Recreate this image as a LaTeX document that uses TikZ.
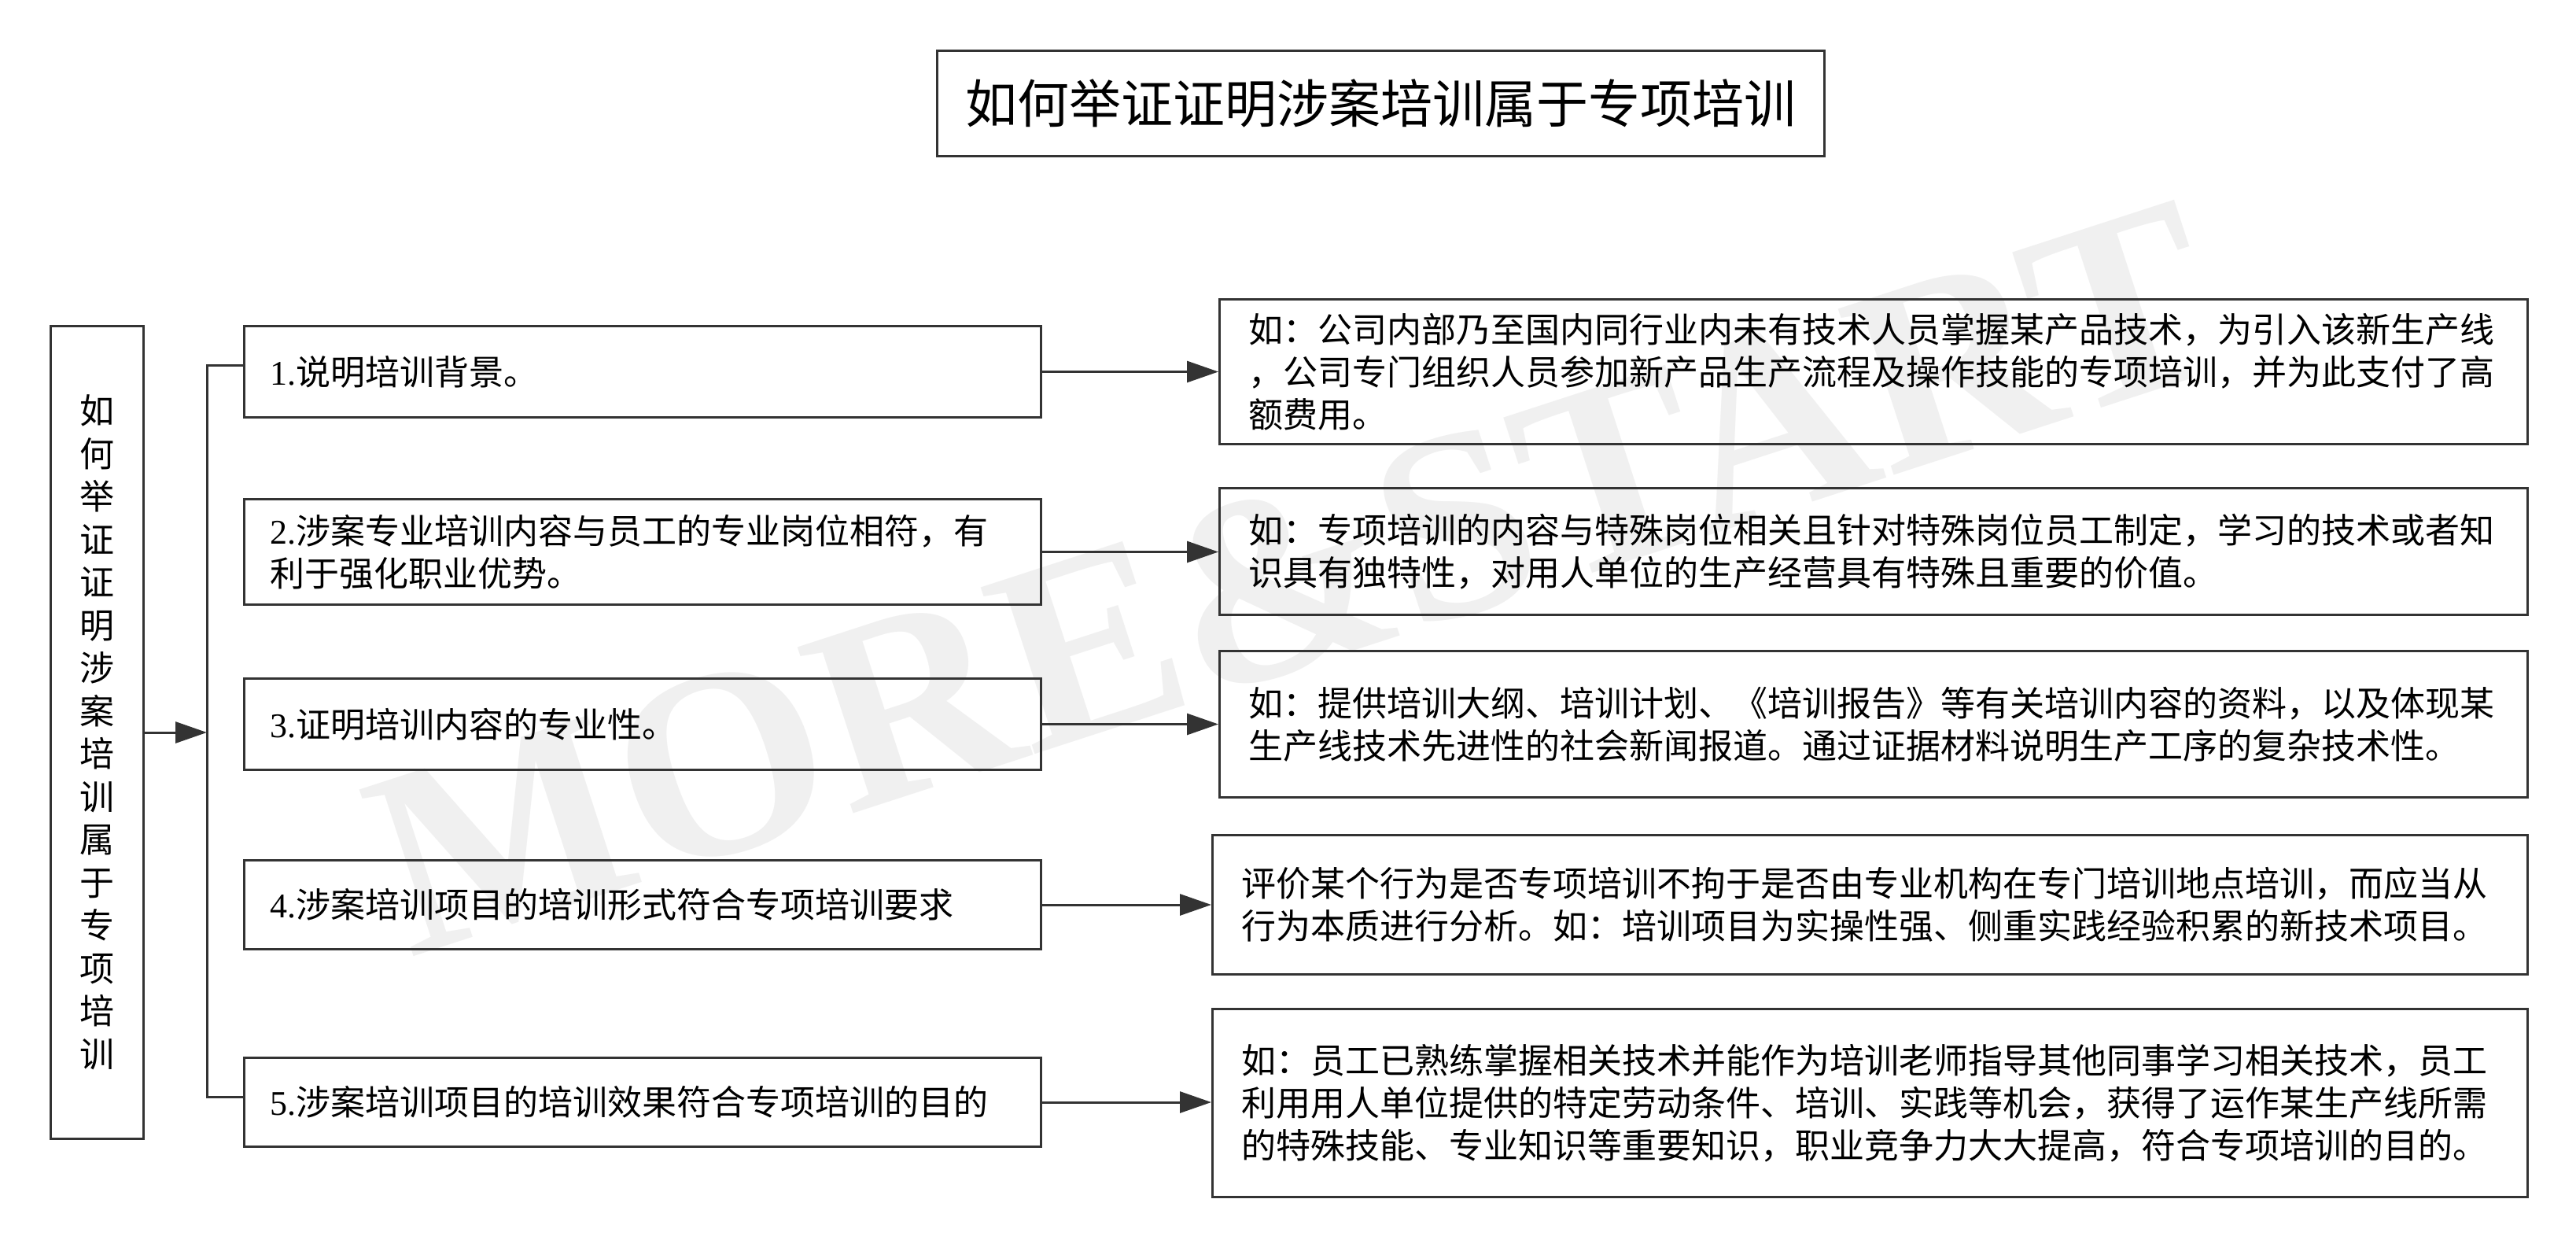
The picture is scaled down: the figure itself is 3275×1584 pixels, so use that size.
\documentclass[tikz,border=0pt]{standalone}
\usepackage{fontspec}
\setmainfont{Liberation Serif}
\newfontfamily\cjk{Noto Sans CJK SC}
\usetikzlibrary{arrows.meta}
\definecolor{lc}{RGB}{51,51,51}
\definecolor{wm}{RGB}{240,240,240}
\begin{document}
\begin{tikzpicture}[x=0.3pt,y=-0.3pt,
  box/.style={draw=lc, line width=0.9pt, inner ysep=0pt, anchor=north west, align=left,
    font=\cjk\fontsize{13.2}{16.2}\selectfont},
  lbox/.style={box, minimum width=303.9pt, text width=284.1pt, inner xsep=9.9pt},
  rbox/.style={box, minimum width=498.9pt, text width=476.7pt, inner xsep=11.1pt},
  rboxb/.style={box, minimum width=501.6pt, text width=479.4pt, inner xsep=11.1pt},
  arr/.style={draw=lc, line width=0.9pt, -{Triangle[length=12pt,width=8.1pt]}},
  ln/.style={draw=lc, line width=0.9pt}]
\useasboundingbox[fill=white] (0,0) rectangle (3275,1584);
% watermark
\node[rotate=18, text=wm, inner sep=0pt, font=\fontsize{102}{102}\selectfont\bfseries] (wmk) at (1645,735) {MORE\&START};
% title
\node[box, align=center, inner xsep=0pt, minimum width=338.4pt, minimum height=40.2pt,
  font=\cjk\fontsize{19.8}{24}\selectfont] (title) at (1190,63) {如何举证证明涉案培训属于专项培训};
% left vertical box
\node[box, align=center, minimum width=35.4pt, minimum height=309.9pt,
  font=\cjk\fontsize{13.2}{16.35}\selectfont] (L) at (63,413)
  {如\\何\\举\\证\\证\\明\\涉\\案\\培\\训\\属\\于\\专\\项\\培\\训};
% middle boxes
\node[lbox, minimum height=34.8pt] (b1) at (309,413) {{\rmfamily 1.}说明培训背景。};
\node[lbox, minimum height=40.2pt] (b2) at (309,633) {{\rmfamily 2.}涉案专业培训内容与员工的专业岗位相符，有\\利于强化职业优势。};
\node[lbox, minimum height=34.8pt] (b3) at (309,861) {{\rmfamily 3.}证明培训内容的专业性。};
\node[lbox, minimum height=33.9pt] (b4) at (309,1092) {{\rmfamily 4.}涉案培训项目的培训形式符合专项培训要求};
\node[lbox, minimum height=33.9pt] (b5) at (309,1343) {{\rmfamily 5.}涉案培训项目的培训效果符合专项培训的目的};
% right boxes
\node[rbox, minimum height=55.2pt] (r1) at (1549,379) {如：公司内部乃至国内同行业内未有技术人员掌握某产品技术，为引入该新生产线\\，公司专门组织人员参加新产品生产流程及操作技能的专项培训，并为此支付了高\\额费用。};
\node[rbox, minimum height=48.3pt] (r2) at (1549,619) {如：专项培训的内容与特殊岗位相关且针对特殊岗位员工制定，学习的技术或者知\\识具有独特性，对用人单位的生产经营具有特殊且重要的价值。};
\node[rbox, minimum height=55.8pt] (r3) at (1549,826) {如：提供培训大纲、培训计划、《培训报告》等有关培训内容的资料，以及体现某\\生产线技术先进性的社会新闻报道。通过证据材料说明生产工序的复杂技术性。};
\node[rboxb, minimum height=53.1pt] (r4) at (1540,1060) {评价某个行为是否专项培训不拘于是否由专业机构在专门培训地点培训，而应当从\\行为本质进行分析。如：培训项目为实操性强、侧重实践经验积累的新技术项目。};
\node[rboxb, minimum height=71.7pt] (r5) at (1540,1281) {如：员工已熟练掌握相关技术并能作为培训老师指导其他同事学习相关技术，员工\\利用用人单位提供的特定劳动条件、培训、实践等机会，获得了运作某生产线所需\\的特殊技能、专业知识等重要知识，职业竞争力大大提高，符合专项培训的目的。};
% connectors
\coordinate (bt) at (263,464);
\coordinate (bb) at (263,1394);
\draw[ln] (b1.west |- bt) -- (bt) -- (bb) -- (b5.west |- bb);
\draw[arr] (L.east) -- (L.east -| bt);
\draw[arr] (b1.east) -- (b1.east -| r1.west);
\draw[arr] (b2.east) -- (b2.east -| r2.west);
\draw[arr] (b3.east) -- (b3.east -| r3.west);
\draw[arr] (b4.east) -- (b4.east -| r4.west);
\draw[arr] (b5.east) -- (b5.east -| r5.west);
\end{tikzpicture}
\end{document}
